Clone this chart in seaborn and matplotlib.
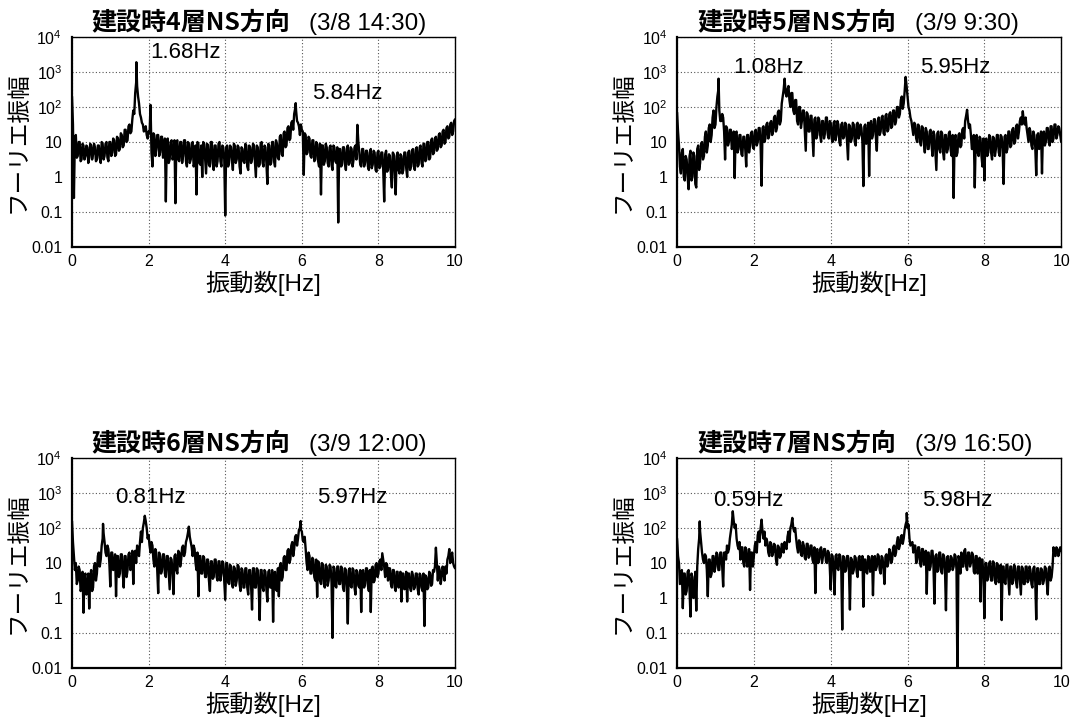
import numpy as np
import pandas as pd
import matplotlib
matplotlib.use("Agg")
import matplotlib.pyplot as plt
from matplotlib.ticker import FixedLocator, FixedFormatter, NullLocator
import seaborn as sns

# Fourier amplitude spectra as log10(amplitude).
# "_log" arrays: bins at 0.00, 0.05, ..., 10.00 Hz
# "_log_mid" arrays: bins at 0.025, 0.075, ..., 9.975 Hz
freq_grid = np.round(np.arange(201) * 0.05, 3)
freq_mid = np.round(0.025 + np.arange(200) * 0.05, 3)

floor4_log = [
    2.3, -0.6, 1.2, 0.6, 1.0, 0.5, 0.9, 0.6, 0.85, 0.55,
    0.9, 0.65, 0.85, 0.5, 0.9, 0.4, 0.95, 0.6, 1.0, 0.45,
    1.0, 0.7, 1.05, 0.65, 1.1, 0.8, 1.2, 0.9, 1.35, 1.05,
    1.5, 1.3, 1.9, 2.4, 2.6, 2.1, 1.7, 1.5, 1.35, 1.2,
    1.3, 2.06, 0.3, 1.2, 0.8, 1.2, 0.7, 1.15, 0.6, -0.7,
    1.1, 0.5, 1.05, 0.6, -0.75, 1.05, 0.45, 1.0, 0.6, 1.05,
    0.3, 0.95, 0.5, 1.0, 0.4, -0.5, 0.95, 0.35, 0.0, 0.95,
    0.1, 0.9, 0.3, 1.0, 0.2, 0.9, 0.45, 1.0, 0.3, 0.85,
    -1.1, 0.9, 0.4, 0.85, 0.2, 0.9, 0.5, 0.85, 0.1, 0.8,
    0.4, 0.9, 0.2, 0.85, 0.5, 0.9, 0.0, 0.85, 0.35, 1.0,
    0.3, 0.85, -0.2, 0.9, 0.4, 1.0, 0.3, 0.95, 0.5, 1.2,
    0.6, 1.3, 0.9, 1.45, 1.1, 1.6, 1.8, 1.9, 1.55, 1.2,
    1.35, 0.06, 1.2, 0.7, 1.1, 0.55, 1.05, 0.5, 0.95, 0.3,
    -0.5, 0.9, 0.45, 0.85, 0.3, 0.9, 0.2, 0.85, 0.4, -1.3,
    0.8, 0.35, 0.85, 0.2, 0.9, 0.4, 0.8, 0.5, 0.9, 1.49,
    0.7, 0.3, 0.8, 0.4, 0.75, 0.2, 0.8, 0.35, 0.7, 0.15,
    0.75, 0.3, 0.7, -0.7, 0.75, 0.2, 0.6, -0.3, 0.65, -0.5,
    0.7, 0.1, 0.6, 0.2, 0.7, 0.0, 0.75, 0.3, 0.8, 0.2,
    0.85, 0.35, 0.9, 0.3, 0.95, 0.5, 1.0, 0.55, 1.1, 0.7,
    1.15, 0.8, 1.25, 0.9, 1.35, 1.0, 1.45, 1.15, 1.55, 1.3,
    1.65,
]
floor4_log_mid = [
    1.5, 1.1, 0.55, 1.0, 0.45, 0.95, 0.5, 0.9, 0.4, 0.95,
    0.5, 0.95, 0.45, 0.9, 0.55, 1.0, 0.5, 0.95, 0.55, 1.0,
    0.6, 1.1, 0.6, 1.15, 0.75, 1.25, 0.85, 1.35, 1.0, 1.45,
    1.25, 1.65, 1.8, 2.7, 2.3, 1.8, 1.55, 1.3, 1.45, 1.1,
    1.25, 0.7, 1.25, 0.6, 1.2, 0.6, 1.15, 0.55, 1.1, 1.05,
    0.4, 1.0, 0.5, 1.05, 1.0, 0.5, 1.0, 0.4, 1.05, 0.45,
    1.0, 0.4, 0.95, 0.3, 0.9, 1.0, 0.4, 0.9, 1.0, 0.5,
    0.95, 0.35, 1.0, 0.4, 0.9, 0.3, 0.95, 0.45, 0.9, 0.5,
    0.85, 0.3, 0.9, 0.5, 0.95, 0.4, 0.9, 0.3, 0.85, 0.45,
    0.95, 0.3, 0.9, 0.4, 0.95, 0.45, 0.9, 0.3, 0.95, 0.4,
    0.9, 0.4, 0.95, 0.35, 1.0, 0.45, 1.05, 0.55, 1.15, 0.65,
    1.25, 0.85, 1.4, 1.05, 1.55, 1.35, 1.95, 1.6, 1.45, 1.5,
    1.3, 1.25, 0.65, 1.15, 0.6, 1.05, 0.45, 1.0, 0.45, 0.95,
    0.9, 0.35, 0.95, 0.4, 0.85, 0.35, 0.9, 0.45, 0.85, 0.8,
    0.3, 0.85, 0.4, 0.8, 0.35, 0.85, 0.3, 0.85, 0.5, 1.0,
    0.35, 0.8, 0.3, 0.75, 0.3, 0.7, 0.25, 0.75, 0.2, 0.7,
    0.25, 0.7, 0.2, 0.65, 0.15, 0.65, 0.1, 0.7, 0.15, 0.6,
    0.2, 0.65, 0.1, 0.7, 0.25, 0.7, 0.2, 0.75, 0.3, 0.8,
    0.3, 0.85, 0.4, 0.95, 0.45, 1.0, 0.5, 1.05, 0.65, 1.1,
    0.75, 1.2, 0.85, 1.3, 0.95, 1.4, 1.1, 1.5, 1.2, 1.6,
]

floor5_log = [
    1.85, 0.9, 0.1, 0.8, -0.1, 0.5, -0.35, 0.75, 0.0, 0.6,
    -0.3, 0.9, 0.4, 1.0, 0.6, 1.3, 0.9, 1.5, 1.2, 1.9,
    1.5, 2.3, 1.9, 1.6, 1.7, 0.5, 1.4, 1.0, 1.35, 0.9,
    -0.03, 1.3, 0.8, 1.2, 0.6, 1.15, 0.3, 1.2, 0.9, 1.3,
    0.8, 1.35, 1.0, 1.4, -0.25, 1.45, 1.1, 1.55, 1.2, 1.6,
    1.3, 1.75, 1.4, 1.9, 1.6, 2.3, 2.81, 2.3, 2.6, 2.0,
    2.4, 1.8, 2.2, 1.5, 2.0, 1.6, 1.9, 0.75, 1.8, 1.3,
    1.75, 0.6, 1.7, 1.2, 1.65, 1.0, 1.6, 1.25, 1.7, 1.1,
    1.55, 1.0, 1.6, 1.2, 1.5, 0.9, 1.55, 1.15, 1.5, 0.5,
    1.45, 1.1, 1.5, 0.9, 1.55, 1.2, 1.4, -0.26, 1.5, 1.1,
    0.03, 1.6, 1.2, 1.65, 0.75, 1.7, 1.3, 1.75, 1.2, 1.8,
    1.35, 1.85, 1.45, 1.9, 1.6, 2.0, 1.8, 2.3, 2.1, 2.5,
    2.3, 1.9, 1.6, 1.2, 1.5, 1.0, 1.45, 0.9, 1.4, 0.7,
    1.3, 0.8, 1.35, 0.6, 1.2, 0.2, 1.3, 0.7, 1.25, 0.5,
    1.2, 0.8, 1.3, 0.6, -0.6, 1.2, 0.7, 1.25, 0.9, 1.4,
    1.6, 1.92, 1.4, 1.2, 0.8, -0.3, 1.2, 0.6, 1.1, 0.3,
    -0.1, 1.1, 0.7, 1.15, 0.5, 1.1, 0.8, 1.2, 0.6, 1.15,
    -0.2, 1.2, 0.8, 1.3, 0.9, 1.4, 1.0, 1.5, 1.3, 1.7,
    1.88, 1.5, 1.4, 1.0, 1.3, 0.8, 1.2, 0.05, 1.25, 0.9,
    0.1, 1.3, 1.0, 1.4, 0.9, 1.45, 1.1, 1.5, 1.2, 1.4,
    1.0,
]
floor5_log_mid = [
    1.3, 0.3, 0.7, 0.0, 0.6, 0.0, 0.6, -0.1, 0.7, -0.2,
    0.8, 0.2, 0.95, 0.5, 1.15, 0.7, 1.4, 1.0, 1.7, 1.4,
    2.0, 2.5, 1.6, 1.8, 1.3, 1.45, 0.9, 1.35, 0.8, 1.3,
    1.25, 0.7, 1.2, 0.65, 1.15, 0.8, 1.2, 0.7, 1.25, 0.85,
    1.3, 0.9, 1.4, 0.9, 1.4, 1.0, 1.5, 1.1, 1.55, 1.2,
    1.7, 1.3, 1.85, 1.5, 2.1, 2.5, 2.4, 2.5, 2.2, 2.4,
    1.9, 2.2, 1.6, 2.0, 1.4, 1.9, 1.3, 1.85, 1.3, 1.75,
    1.2, 1.65, 1.1, 1.7, 1.2, 1.6, 1.1, 1.7, 1.2, 1.6,
    1.1, 1.55, 1.05, 1.6, 1.0, 1.5, 1.1, 1.55, 1.0, 1.5,
    1.0, 1.55, 1.0, 1.5, 1.1, 1.5, 1.0, 1.45, 0.95, 1.55,
    1.5, 1.1, 1.65, 1.15, 1.6, 1.2, 1.7, 1.25, 1.75, 1.3,
    1.8, 1.4, 1.9, 1.5, 2.0, 1.7, 2.2, 1.95, 2.45, 2.6,
    2.0, 1.7, 1.4, 1.55, 1.1, 1.5, 1.0, 1.45, 1.0, 1.4,
    0.8, 1.3, 0.9, 1.3, 0.7, 1.25, 0.8, 1.3, 0.7, 1.2,
    0.7, 1.25, 0.75, 1.2, 1.1, 0.6, 1.2, 0.85, 1.35, 1.1,
    1.75, 1.6, 1.5, 0.8, 1.2, 1.1, 0.7, 1.15, 0.6, 1.1,
    1.05, 0.6, 1.2, 0.7, 1.15, 0.6, 1.2, 0.7, 1.2, 0.8,
    1.15, 0.7, 1.3, 0.85, 1.35, 0.95, 1.45, 1.1, 1.6, 1.5,
    1.6, 1.7, 1.2, 1.4, 0.9, 1.3, 0.85, 1.2, 0.8, 1.3,
    1.25, 0.9, 1.4, 1.0, 1.45, 1.0, 1.5, 1.1, 1.45, 1.2,
]

floor6_log = [
    2.2, 1.2, 1.0, 0.5, 0.8, 0.3, -0.42, 0.7, 0.2, -0.3,
    0.8, 0.3, 1.0, 0.7, 1.3, 1.1, 1.7, 1.6, 1.2, 1.4,
    0.33, 1.3, 0.9, 0.05, 1.2, 0.7, 1.25, 0.3, 1.2, 0.8,
    1.3, 0.9, 0.4, 1.35, 1.5, 1.2, 1.9, 2.0, 2.35, 2.0,
    1.8, 1.3, 1.5, 0.9, 1.3, 0.14, 1.2, 0.8, 1.25, 0.6,
    1.2, 0.25, 1.1, 0.11, 1.25, 0.7, 1.3, 1.1, 1.5, 1.3,
    1.7, 2.04, 1.6, 1.2, 1.4, 0.8, 0.05, 1.2, 0.7, 1.15,
    0.6, 1.1, 0.2, 1.05, 0.6, 1.1, 0.5, 1.05, 0.7, 1.0,
    -0.05, 1.0, 0.4, 0.9, 0.3, 0.85, 0.5, 0.9, 0.2, 0.8,
    0.3, 0.85, 0.1, 0.8, -0.33, 0.85, 0.3, 0.8, -0.63, 0.8,
    0.2, 0.75, -0.1, 0.8, 0.3, -0.68, 0.75, 0.2, 0.05, 1.0,
    0.6, 1.2, 0.8, 1.4, 1.1, 1.6, 1.4, 1.8, 1.7, 2.0,
    1.9, 1.6, 1.4, 0.8, 1.2, 0.7, 1.1, 0.5, 0.03, 1.0,
    0.4, 0.95, 0.3, 0.9, 0.5, 0.9, -1.14, 0.85, 0.3, 0.9,
    0.4, 0.85, 0.2, 0.8, -0.73, 0.85, 0.3, 0.8, 0.1, 0.75,
    0.3, -0.4, 0.8, 0.4, 0.85, 0.2, -0.4, 0.9, 0.5, 1.0,
    0.7, 1.1, 1.28, 0.9, 1.0, 0.5, 0.85, 0.3, 0.8, 0.2,
    0.75, 0.4, -0.1, 0.7, 0.3, -0.1, 0.7, 0.2, 0.65, 0.3,
    0.7, 0.1, 0.65, 0.2, -0.8, 0.6, 0.3, 0.7, 0.4, 0.75,
    1.44, 0.5, 0.8, 0.6, 0.75, 0.9, 1.1, 1.4, 1.2, 1.0,
    0.85,
]
floor6_log_mid = [
    1.6, 0.8, 0.4, 0.9, 0.2, 0.75, 0.6, 0.1, 0.7, 0.6,
    0.2, 0.9, 0.5, 1.2, 0.9, 1.5, 1.85, 1.3, 1.5, 1.0,
    1.3, 0.8, 1.25, 1.2, 0.6, 1.25, 0.7, 1.2, 0.6, 1.25,
    0.8, 1.35, 1.3, 1.0, 1.3, 1.6, 1.6, 2.15, 2.2, 1.7,
    1.5, 1.6, 1.1, 1.4, 0.8, 1.3, 0.7, 1.25, 0.7, 1.2,
    0.7, 1.15, 0.7, 1.2, 0.8, 1.35, 0.9, 1.45, 1.2, 1.6,
    1.85, 1.75, 1.45, 1.5, 1.0, 1.3, 1.2, 0.7, 1.2, 0.6,
    1.1, 0.5, 1.05, 0.55, 1.1, 0.6, 1.05, 0.5, 1.05, 0.45,
    1.0, 0.45, 0.95, 0.4, 0.9, 0.35, 0.95, 0.4, 0.85, 0.3,
    0.85, 0.3, 0.8, 0.35, 0.85, 0.3, 0.85, 0.25, 0.8, 0.3,
    0.8, 0.25, 0.75, 0.3, 0.8, 0.7, 0.25, 0.85, 0.9, 0.5,
    1.15, 0.8, 1.35, 1.0, 1.5, 1.2, 1.75, 1.5, 1.95, 1.95,
    1.65, 1.75, 1.0, 1.3, 0.7, 1.15, 0.6, 1.1, 1.05, 0.5,
    1.0, 0.4, 0.95, 0.35, 0.95, 0.45, 0.9, 0.35, 0.9, 0.4,
    0.9, 0.3, 0.85, 0.3, 0.8, 0.35, 0.85, 0.3, 0.8, 0.35,
    0.8, 0.75, 0.3, 0.85, 0.35, 0.8, 0.85, 0.45, 0.95, 0.6,
    1.05, 0.8, 1.1, 0.6, 0.95, 0.85, 0.4, 0.8, 0.3, 0.75,
    0.3, 0.75, 0.7, 0.25, 0.75, 0.7, 0.3, 0.75, 0.25, 0.7,
    0.25, 0.7, 0.3, 0.7, 0.65, 0.25, 0.75, 0.35, 0.8, 0.9,
    1.0, 0.9, 0.4, 0.9, 0.5, 0.7, 1.2, 1.0, 1.3, 0.9,
]

floor7_log = [
    1.7, 1.0, 0.6, -0.29, 0.7, 0.2, 0.8, -0.53, 0.6, 0.1,
    -0.36, 1.4, 1.9, 1.3, 1.0, 1.2, 0.05, 1.1, 0.7, 1.2,
    0.9, 1.25, 0.8, 1.3, 0.33, 1.3, 1.5, 1.4, 1.9, 2.48,
    2.0, 1.7, 1.4, 1.1, 1.45, 0.9, 1.4, 1.0, 0.23, 1.3,
    1.2, 1.6, 1.8, 1.6, 2.24, 1.7, 1.5, 1.6, 1.2, 1.55,
    1.3, 1.5, 0.95, 1.45, 1.2, 1.5, 1.6, 1.4, 1.9, 2.0,
    2.29, 1.9, 1.7, 1.3, 1.6, 1.2, 1.5, 1.1, 1.55, 1.2,
    1.5, 1.0, 0.14, 1.4, 1.1, 1.45, 1.2, 1.4, 1.0, 1.3,
    0.24, 1.2, 0.1, 1.25, 0.8, 1.2, -0.9, 1.15, 0.8, 1.2,
    -0.33, 1.1, 0.8, 1.15, 0.6, 1.2, 0.9, -0.25, 1.1, 0.7,
    1.15, 0.8, 0.08, 1.2, 0.9, 1.2, 0.7, 1.15, 0.4, 1.25,
    1.0, 1.3, 1.1, 1.5, 1.3, 1.74, 1.5, 1.8, 1.7, 2.1,
    2.0, 1.7, 1.55, 1.3, 1.5, 1.1, 1.45, 0.9, 1.4, 1.0,
    0.12, 1.3, 0.9, 1.35, -0.16, 1.25, 0.8, 1.3, 0.7, 1.2,
    -0.35, 1.2, 0.8, 1.15, 0.9, 1.2, -2.5, 1.1, 1.3, 0.9,
    1.4, 0.8, 1.3, 1.0, 1.25, 0.7, 1.2, 0.9, -0.1, 1.1,
    -0.58, 1.0, 0.6, 1.05, 0.5, 1.0, 0.4, 0.95, 0.6, -0.63,
    0.9, 0.4, 0.95, 0.1, 0.9, 0.5, 0.85, 0.3, 0.9, 0.1,
    0.85, 0.4, 0.9, 0.5, 0.8, 0.3, 0.9, -0.61, 0.85, 0.4,
    0.8, 0.5, 0.85, 0.1, 0.9, 0.6, 1.45, 1.2, 1.4, 1.3,
    1.35,
]
floor7_log_mid = [
    1.2, 0.4, 0.8, 0.7, 0.1, 0.75, 0.2, 0.7, 0.0, 0.75,
    0.9, 1.7, 1.6, 1.1, 1.25, 0.8, 1.1, 0.6, 1.2, 0.75,
    1.3, 0.8, 1.3, 0.9, 1.3, 1.1, 1.3, 1.7, 2.1, 2.2,
    2.1, 1.5, 1.6, 1.45, 1.0, 1.45, 0.9, 1.4, 1.3, 0.9,
    1.5, 1.3, 1.9, 2.0, 1.9, 1.9, 1.7, 1.3, 1.6, 1.2,
    1.55, 1.1, 1.5, 1.15, 1.55, 1.3, 1.45, 1.75, 1.6, 2.1,
    2.0, 2.0, 1.45, 1.65, 1.25, 1.6, 1.15, 1.55, 1.15, 1.5,
    1.1, 1.45, 1.3, 1.0, 1.4, 1.0, 1.4, 1.05, 1.35, 0.9,
    1.25, 0.8, 1.2, 0.85, 1.25, 0.8, 1.2, 0.75, 1.2, 0.8,
    1.15, 0.7, 1.2, 0.75, 1.15, 0.8, 1.2, 1.1, 0.75, 1.2,
    0.75, 1.2, 1.15, 0.8, 1.25, 0.8, 1.2, 0.8, 1.2, 0.9,
    1.4, 1.0, 1.45, 1.2, 1.6, 1.4, 1.75, 1.55, 1.95, 2.2,
    2.1, 1.5, 1.6, 1.5, 1.0, 1.45, 1.0, 1.4, 0.95, 1.35,
    1.3, 0.8, 1.35, 0.9, 1.2, 0.75, 1.3, 0.75, 1.25, 0.8,
    1.15, 0.75, 1.2, 0.8, 1.25, 0.8, 1.2, 0.7, 0.9, 1.35,
    0.9, 1.3, 0.9, 1.3, 0.75, 1.2, 0.7, 1.15, 1.1, 0.6,
    1.0, 0.5, 1.0, 0.5, 1.05, 0.5, 1.0, 0.45, 0.95, 0.9,
    0.45, 0.95, 0.5, 0.9, 0.4, 0.95, 0.45, 0.9, 0.5, 0.9,
    0.4, 0.9, 0.45, 0.9, 0.4, 0.85, 0.45, 0.85, 0.4, 0.85,
    0.4, 0.9, 0.45, 0.85, 0.5, 0.9, 1.25, 1.45, 1.2, 1.45,
]

# Labelled natural frequencies (Hz) and their spectral peaks (log10 amplitude)
peak_freqs = [[1.68, 5.84], [1.08, 5.95], [0.81, 5.97], [0.59, 5.98]]
peak_logs = [[3.28, 2.11], [2.81, 2.86], [2.12, 2.20], [2.19, 2.43]]

floors = ["4層", "5層", "6層", "7層"]
times = ["(3/8 14:30)", "(3/9 9:30)", "(3/9 12:00)", "(3/9 16:50)"]
spectra = [floor4_log, floor5_log, floor6_log, floor7_log]
spectra_mid = [floor4_log_mid, floor5_log_mid, floor6_log_mid, floor7_log_mid]

# label positions (x in Hz, y as amplitude) for the two peak annotations
label_pos = [
    [(2.03, 10 ** 3.57), (6.27, 10 ** 2.40)],
    [(1.46, 10 ** 3.14), (6.33, 10 ** 3.14)],
    [(1.12, 10 ** 2.86), (6.40, 10 ** 2.86)],
    [(0.94, 10 ** 2.80), (6.38, 10 ** 2.80)],
]

y_ticks = [1e-2, 1e-1, 1, 10, 1e2, 1e3, 1e4]
y_ticklabels = ["0.01", "0.1", "1", "10", "$10^2$", "$10^3$", "$10^4$"]
x_ticks = [0, 2, 4, 6, 8, 10]

sns.set_style("white")
plt.rcParams["font.family"] = ["Liberation Sans", "Noto Sans CJK JP", "DejaVu Sans"]
plt.rcParams["mathtext.fontset"] = "custom"
plt.rcParams["mathtext.rm"] = "Liberation Sans"
plt.rcParams["mathtext.it"] = "Liberation Sans"
for key in ("text.color", "axes.labelcolor", "xtick.color", "ytick.color"):
    plt.rcParams[key] = "black"

CJK = ["Noto Sans CJK JP", "DejaVu Sans"]
LAT_CJK = ["Liberation Sans", "Noto Sans CJK JP"]

fig = plt.figure(figsize=(10.73, 7.19), dpi=100)
positions = [
    [0.0671, 0.6565, 0.357, 0.292],
    [0.631, 0.6565, 0.358, 0.292],
    [0.0671, 0.0709, 0.357, 0.292],
    [0.631, 0.0709, 0.358, 0.292],
]


def build_frame(log_vals, log_mid, pf, pl):
    f = np.concatenate([freq_grid, freq_mid])
    v = np.concatenate([np.asarray(log_vals, float), np.asarray(log_mid, float)])
    keep = ~np.isin(np.round(f, 3), np.round(pf, 3))
    f = np.concatenate([f[keep], pf])
    v = np.concatenate([v[keep], pl])
    order = np.argsort(f, kind="stable")
    return pd.DataFrame({"freq": f[order], "amp": 10 ** v[order]})


for i in range(4):
    ax = fig.add_axes(positions[i])
    df = build_frame(spectra[i], spectra_mid[i], peak_freqs[i], peak_logs[i])
    sns.lineplot(data=df, x="freq", y="amp", ax=ax, color="black",
                 linewidth=1.7, estimator=None, sort=False)
    ax.set_yscale("log")
    ax.set_xlim(0, 10)
    ax.set_ylim(1e-2, 1e4)
    ax.yaxis.set_major_locator(FixedLocator(y_ticks))
    ax.yaxis.set_major_formatter(FixedFormatter(y_ticklabels))
    ax.yaxis.set_minor_locator(NullLocator())
    ax.set_xticks(x_ticks)
    ax.set_xticklabels([str(t) for t in x_ticks])
    ax.tick_params(axis="both", labelsize=11.5, direction="in", length=3,
                   width=0.8, color="black", labelcolor="black")
    ax.tick_params(axis="y", pad=7)
    ax.tick_params(axis="x", pad=5)
    ax.grid(True, which="major", color="#555555", linestyle=(0, (1, 2)),
            linewidth=0.8)
    for side, sp in ax.spines.items():
        sp.set_color("black")
        sp.set_linewidth(1.6 if side in ("left", "bottom") else 1.0)
    ax.set_xlabel("振動数[Hz]", fontsize=17.5, family=LAT_CJK, labelpad=1,
                  color="black")
    ax.set_ylabel("フーリエ振幅", fontsize=17, family=CJK, labelpad=1,
                  color="black")

    ax.text(0.57, 1.012, f"建設時{floors[i]}NS方向", transform=ax.transAxes,
            ha="right", va="bottom", fontsize=18, fontweight="bold",
            family=CJK, color="black")
    ax.text(0.62, 1.012, times[i], transform=ax.transAxes,
            ha="left", va="bottom", fontsize=17.5, family=LAT_CJK,
            color="black")

    for (lx, ly), pfreq in zip(label_pos[i], peak_freqs[i]):
        ax.text(lx, ly, f"{pfreq:.2f}Hz", ha="left", va="center",
                fontsize=16, family=LAT_CJK, color="black")

fig.savefig("out.png", dpi=100, facecolor="white")
